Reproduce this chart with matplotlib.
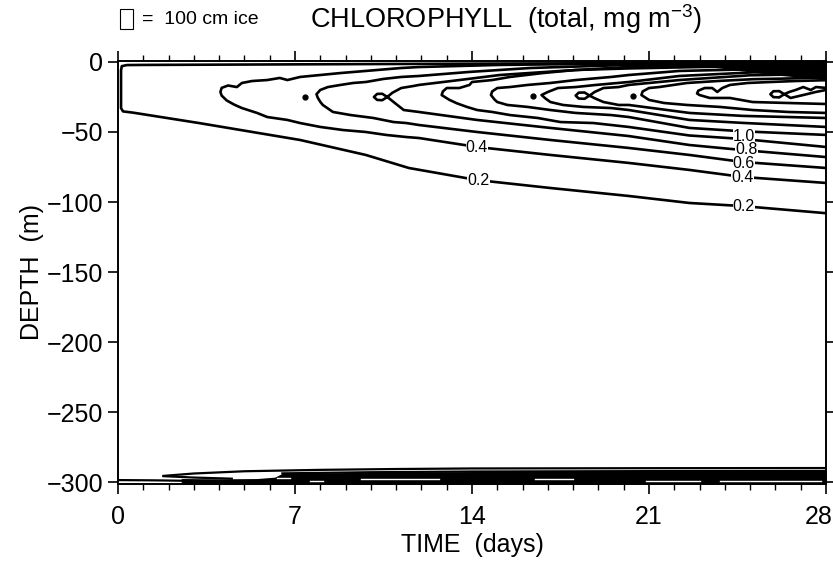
import numpy as np
import matplotlib.pyplot as plt
import matplotlib.transforms as mtransforms
from matplotlib.patches import Rectangle

plt.rcParams['font.family'] = ['Liberation Sans', 'DejaVu Sans']
plt.rcParams['mathtext.fontset'] = 'custom'
plt.rcParams['mathtext.rm'] = 'Liberation Sans'

# contour paths: (time in days, depth in m)
# each path runs from the right edge along the upper branch, round the tip, back along the lower branch
c02 = [(28, -0.5), (21, -0.8), (14, -1.2), (7, -1.7), (1, -2.1), (0.35, -2.2), (0.15, -3.0),
       (0.12, -6), (0.12, -33), (0.2, -35.3), (0.6, -36.2), (3.2, -43.6), (7.2, -55.7),
       (9.8, -66.4), (11.5, -75.7), (14.2, -84.3), (17.1, -90), (20.2, -95.7), (22.6, -100.7),
       (24.7, -102.9), (28, -108)]
c04 = [(28, -0.8), (20.2, -1.1), (15.1, -2.1), (11.9, -3.6), (11.2, -4.3), (9.8, -6.4), (8.8, -7.9),
       (8.0, -9.3), (7.2, -10.7), (6.7, -12.9), (6.4, -11.4), (5.9, -12.9), (5.3, -13.6), (4.9, -15),
       (4.7, -17.9), (4.35, -16.8), (4.1, -18.5), (4.05, -21.4), (4.1, -24), (4.3, -27.5),
       (4.6, -30.5), (4.9, -32.9), (5.5, -36.4), (5.9, -39.3), (6.7, -41.4), (7.2, -43.6),
       (8.0, -46.4), (8.9, -48.6), (9.8, -50), (10.6, -52.1), (11.4, -53.6), (11.9, -54.3),
       (14.2, -60.7), (17.1, -66.4), (20.2, -72.1), (22.6, -77.1), (24.7, -82.1), (28, -86.4)]
c06 = [(28, -1.1), (20.2, -2.1), (16.3, -4.3), (13.9, -7.1), (11.9, -10), (11.2, -10.7), (10.5, -12.1),
       (9.8, -14.3), (9.3, -15), (8.8, -16.4), (8.3, -17.9), (8.0, -20), (7.85, -23), (7.9, -25.5),
       (8.0, -28.5), (8.1, -30.7), (8.5, -35.7), (9.2, -37.9), (10.1, -40), (10.9, -42.9),
       (11.4, -43.6), (11.9, -45), (14.2, -50), (17.1, -55.7), (20.2, -61.4), (22.6, -66.4),
       (24.7, -71.4), (28, -75.7)]
c08 = [(28, -1.8), (20.2, -3.6), (17.5, -6.4), (15.1, -9.3), (13.5, -12.9), (11.9, -16.4),
       (11.7, -17.1), (11.2, -18.6), (10.85, -22), (10.65, -25), (10.45, -27.3), (10.25, -27.1),
       (10.12, -25.0), (10.25, -22.8), (10.45, -22.7), (10.65, -25), (10.9, -28.6), (11.3, -34.3),
       (11.9, -35.7), (14.2, -41.4), (17.1, -47.1), (20.2, -52.9), (22.6, -59.3), (24.7, -62.9),
       (28, -67.9)]
c10 = [(28, -2.5), (23, -3.6), (20.2, -4.6), (18.1, -5.7), (16.8, -7.9), (15.5, -10.7), (14.8, -12.9),
       (14.0, -14.3), (13.9, -16.4), (13.5, -18.6), (13.0, -18.6), (12.85, -21), (12.8, -23.6),
       (13.1, -27), (13.4, -29.5), (13.8, -32.1), (14.2, -34.3), (14.8, -35.7), (15.5, -37.9),
       (16.6, -40), (17.5, -42.9), (18.8, -43.6), (20.2, -46.4), (22.6, -52.5), (24.7, -55),
       (28, -60.7)]
c12 = [(28, -4), (22.2, -6.4), (20.2, -9.3), (19.5, -10.7), (18.1, -12.9), (17.1, -15), (16.2, -16.4),
       (15.5, -17.9), (15.0, -18.6), (14.8, -21), (14.75, -23.6), (14.9, -27), (15.0, -28.6),
       (15.4, -30.7), (16.2, -32.1), (17.1, -34.3), (18.1, -36.4), (19.5, -37.9), (20.2, -39.3),
       (22.6, -47.1), (24.7, -49.5), (28, -52.1)]
c14 = [(28, -6), (25, -7.5), (22.2, -10), (20.2, -14.3), (18.9, -16.4), (18.1, -17.9), (17.4, -18.6),
       (17.0, -21.4), (16.75, -23.6), (16.9, -26), (17.1, -28.6), (17.6, -30.7), (18.4, -32.1),
       (19.5, -32.9), (20.2, -34.3), (22.6, -41.4), (24.7, -43.5), (28, -46.4)]
c16 = [(28, -8.5), (25, -9.5), (22.2, -12.9), (20.2, -16.4), (19.8, -17.9), (19.2, -18.6),
       (18.85, -21.4), (18.65, -24), (18.45, -26.3), (18.22, -26.1), (18.1, -24), (18.22, -21.9),
       (18.45, -21.8), (18.65, -24), (18.85, -25.9), (19.2, -28.6), (19.8, -30.7), (20.2, -30.7),
       (22.6, -36.4), (24.7, -38.5), (28, -40)]
c18 = [(28, -11), (26.5, -11.8), (25.1, -12.3), (23.8, -13.5), (22.5, -15), (21.4, -17.9),
       (21.0, -18.6), (20.75, -21), (20.7, -23.6), (21.0, -27.1), (21.6, -29.3), (22.5, -30.7),
       (23.8, -32.1), (25.1, -34.3), (26.5, -35.7), (28, -36.4)]
c20 = [(28, -13), (26.8, -13.6), (25.8, -14.3), (24.9, -15), (24.2, -16.4), (23.9, -18.6),
       (23.7, -21.4), (23.5, -18.6), (23.2, -18.6), (22.95, -20.5), (22.9, -22.5), (23.0, -23.6),
       (23.4, -25.7), (24.2, -25.7), (25.1, -28.6), (26.5, -29.3), (28, -30)]
c22 = [(28, -18.5), (27.6, -17.9), (27.4, -20), (27.1, -17.9), (26.8, -20), (26.55, -21.4),
       (26.35, -23), (26.15, -25.3), (25.92, -25.1), (25.8, -23), (25.92, -20.9), (26.15, -20.8),
       (26.35, -23), (26.6, -25.7), (27.1, -23.6), (27.6, -21.4), (28, -20)]

# tiny closed contours just ahead of some tips
dot_t = [7.4, 16.4, 20.35]
dot_z = [-25.0, -24.3, -24.3]

# crowded upper branches near the surface (solid black)
band_t = [21.3, 22.0, 23.0, 23.8, 25.8, 28.0]
band_z = [0.0, -1.3, -2.8, -4.3, -9.0, -12.5]

# near-bottom contours
bot_top = [(1.8, -295.6), (3, -293.9), (5, -292.3), (8, -291.3), (11, -290.7), (14, -290.3),
           (21, -290.1), (28, -290.0)]
bot_wedge = [(1.8, -295.8), (3, -296.8), (4.5, -297.6)]
bot_line2 = [(6.5, -293.8), (10, -293.0), (14, -292.5), (21, -292.2), (28, -292.1)]
bot_fill_t = [2.5, 4.0, 5.5, 6.2, 6.5, 10, 14, 21, 28]
bot_fill_z = [-297.5, -297.7, -297.5, -296.5, -293.8, -293.0, -292.5, -292.2, -292.1]
bot_left = [(0, -298.6), (1.5, -298.8), (3, -299.2)]
bot_streaks = [[(6.3, -297.4), (6.8, -297.4)], [(7.6, -299.0), (8.1, -299.0)],
               [(9.6, -297.9), (12.7, -297.9)], [(16.5, -297.9), (18.0, -297.9)],
               [(20.9, -299.3), (23.0, -299.3)], [(23.8, -299.3), (27.8, -299.3)]]

# contour labels
lab_text = ['0.4', '0.2', '1.0', '0.8', '0.6', '0.4', '0.2']
lab_t = [14.2, 14.25, 24.75, 24.85, 24.75, 24.7, 24.75]
lab_z = [-60.9, -84.3, -53.2, -62.8, -72.7, -82.5, -103.2]

fig = plt.figure(figsize=(8.33, 5.62), dpi=100)
ax = fig.add_axes([118 / 833, 78 / 562, 708 / 833, 423 / 562])

for path in [c02, c04, c06, c08, c10, c12, c14, c16, c18, c20, c22]:
    t, z = zip(*path)
    ax.plot(t, z, color='k', lw=1.9, solid_joinstyle='round', solid_capstyle='round')
ax.plot(dot_t, dot_z, 'ko', ms=3.5)
ax.fill_between(band_t, band_z, 0.7, color='k', lw=0)

for path in [bot_top, bot_wedge, bot_line2, bot_left]:
    t, z = zip(*path)
    ax.plot(t, z, color='k', lw=1.6)
ax.fill_between(bot_fill_t, bot_fill_z, -301.5, color='k', lw=0)
for path in bot_streaks:
    t, z = zip(*path)
    ax.plot(t, z, color='white', lw=1.0)

for s, t, z in zip(lab_text, lab_t, lab_z):
    ax.text(t, z, s, fontsize=11.5, ha='center', va='center',
            bbox=dict(facecolor='white', edgecolor='none', pad=0.1))

ax.set_xlim(0, 28)
ax.set_ylim(-301.4, 0.7)
ax.set_xticks([0, 7, 14, 21, 28])
ax.set_xticks(np.arange(0, 29, 1), minor=True)
ax.set_yticks([0, -50, -100, -150, -200, -250, -300])
ax.tick_params(which='major', direction='out', length=7, width=1.2, labelsize=18,
               top=True, right=True)
ax.tick_params(axis='x', which='major', pad=8)
ax.tick_params(which='minor', direction='out', length=4, width=1.0, top=True)
for sp in ax.spines.values():
    sp.set_linewidth(1.4)
ax.set_xlabel('TIME  (days)', fontsize=18, labelpad=3)
ax.set_ylabel('DEPTH  (m)', fontsize=18, labelpad=2)

# keep the last day label inside the picture
last = ax.get_xticklabels()[-1]
last.set_transform(last.get_transform() +
                   mtransforms.ScaledTranslation(-7 / 100, 0, fig.dpi_scale_trans))

fig.patches.append(Rectangle((120 / 833, 1 - 29 / 562), 13 / 833, 20 / 562,
                             transform=fig.transFigure, fill=False, lw=0.8, edgecolor='k'))
fig.text(142 / 833, 1 - 19 / 562, '=  100 cm ice', fontsize=14, va='center', ha='left')
fig.text(506 / 833, 1 - 19 / 562, r'CHLOROPHYLL  (total, mg m$^{-3}$)', fontsize=19.5,
         va='center', ha='center')

fig.savefig('out.png', dpi=100)
